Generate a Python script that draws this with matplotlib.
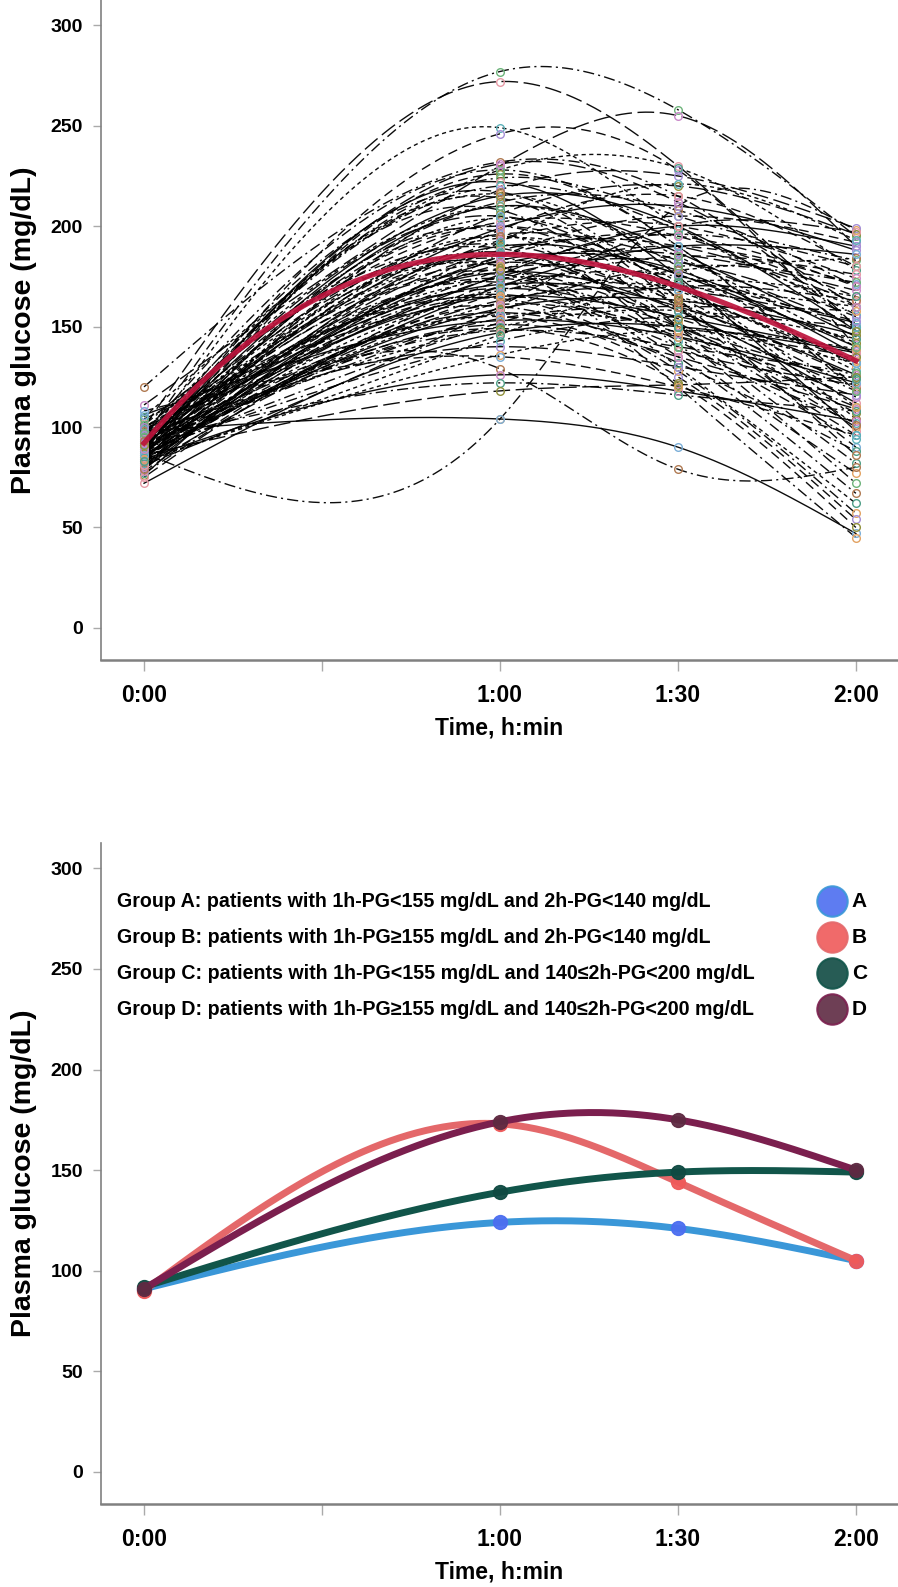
import numpy as np
import matplotlib
matplotlib.use('Agg')
from matplotlib import pyplot as plt

# sampling times (minutes) of the OGTT
minutes = [0, 60, 90, 120]
tick_minutes = [0, 30, 60, 90, 120]
tick_labels = ['0:00', '', '1:00', '1:30', '2:00']

# individual patients, plasma glucose (mg/dL) at 0, 60, 90, 120 min
pg_0 = [95, 100, 92, 88, 87, 98, 120, 111, 105, 82, 90, 86, 94, 80, 96, 85,
        99, 83, 91, 88, 78, 102, 86, 93, 81, 97, 89, 84, 92, 76, 101, 87,
        95, 82, 90, 79, 98, 85, 93, 88, 104, 80, 91, 86, 96, 83, 89, 92,
        77, 100, 85, 94, 81, 88, 97, 84, 90, 78, 95, 86, 92, 75, 99, 83,
        89, 106, 87, 80, 94, 85, 91, 72, 88, 96, 83, 108, 90, 84, 93, 86,
        95, 89, 82, 100, 87, 91, 79, 94, 85, 90, 97, 81, 88, 92, 84, 86,
        93, 89, 83, 91]
pg_60 = [277, 272, 249, 246, 104, 104, 232, 230, 228, 226, 224, 222, 220, 218,
         216, 214, 212, 210, 208, 206, 204, 202, 200, 199, 197, 196, 194, 193,
         191, 190, 189, 188, 186, 185, 184, 183, 182, 181, 180, 179, 178, 177,
         176, 175, 174, 173, 172, 171, 170, 169, 168, 167, 166, 165, 164, 163,
         162, 161, 160, 159, 158, 157, 156, 155, 154, 153, 152, 151, 150, 149,
         148, 147, 143, 140, 136, 135, 129, 126, 122, 118, 210, 198, 187, 176,
         165, 205, 195, 185, 174, 215, 228, 160, 192, 200, 180, 170, 217, 231,
         146, 178]
pg_90 = [258, 230, 200, 228, 210, 90, 215, 255, 229, 190, 205, 175, 198, 225,
         180, 160, 208, 187, 150, 220, 172, 195, 165, 210, 140, 183, 170, 200,
         158, 176, 145, 190, 168, 205, 152, 178, 162, 186, 130, 172, 196, 158,
         143, 182, 165, 190, 135, 160, 175, 150, 170, 185, 140, 155, 128, 168,
         178, 147, 132, 163, 180, 138, 150, 125, 160, 145, 170, 135, 158, 122,
         140, 150, 155, 130, 148, 120, 79, 118, 116, 121, 185, 215, 150, 200,
         145, 170, 160, 195, 150, 200, 190, 200, 221, 176, 120, 190, 164, 212,
         172, 154]
pg_120 = [195, 150, 160, 140, 198, 47, 150, 190, 178, 120, 183, 98, 156, 199,
          130, 90, 170, 145, 82, 196, 110, 165, 125, 188, 77, 150, 104, 174,
          118, 140, 72, 162, 128, 192, 100, 136, 119, 168, 62, 142, 180, 112,
          94, 155, 133, 171, 67, 126, 148, 107, 160, 176, 102, 138, 57, 152,
          184, 115, 88, 146, 172, 121, 132, 54, 158, 122, 163, 109, 144, 50,
          127, 137, 150, 116, 139, 96, 80, 103, 108, 125, 140, 180, 96, 190,
          110, 132, 101, 170, 124, 148, 118, 197, 193, 153, 45, 186, 86, 160,
          165, 135]
mean_pg = [92, 186, 170, 133]

# group means (bottom panel)
group_names = ['A', 'B', 'C', 'D']
group_a = [91, 124, 121, 105]
group_b = [90, 173, 144, 105]
group_c = [92, 139, 149, 149]
group_d = [91, 174, 175, 150]
group_text = [
    'Group A: patients with 1h-PG<155 mg/dL and 2h-PG<140 mg/dL',
    'Group B: patients with 1h-PG\u2265155 mg/dL and 2h-PG<140 mg/dL',
    'Group C: patients with 1h-PG<155 mg/dL and 140\u22642h-PG<200 mg/dL',
    'Group D: patients with 1h-PG\u2265155 mg/dL and 140\u22642h-PG<200 mg/dL',
]

plt.rcParams['font.family'] = ['Liberation Sans', 'DejaVu Sans']
plt.rcParams['font.weight'] = 'bold'

line_styles = [(0, (8, 3, 1.5, 3)), (0, (12, 4)), (0, (3, 2.5)), (0, (7, 4)),
               (0, (8, 3, 1.5, 3)), '-']
marker_colors = ['#6db37a', '#e79aa6', '#5cb0b8', '#a58fd6', '#e2a262',
                 '#7aaed8', '#b07a52', '#c98ac9', '#4e9e86', '#8f8f3a']


def spline(values):
    # natural cubic spline through the four measurements
    x = np.array(minutes, float)
    y = np.array(values, float)
    n = len(x)
    h = np.diff(x)
    A = np.zeros((n, n))
    r = np.zeros(n)
    A[0, 0] = A[-1, -1] = 1
    for i in range(1, n - 1):
        A[i, i - 1] = h[i - 1]
        A[i, i] = 2 * (h[i - 1] + h[i])
        A[i, i + 1] = h[i]
        r[i] = 6 * ((y[i + 1] - y[i]) / h[i] - (y[i] - y[i - 1]) / h[i - 1])
    M = np.linalg.solve(A, r)
    xs = np.linspace(0, 120, 241)
    k = np.clip(np.searchsorted(x, xs) - 1, 0, n - 2)
    u = (xs - x[k]) / h[k]
    ys = (y[k] * (1 - u) + y[k + 1] * u
          + h[k] ** 2 / 6 * (M[k] * ((1 - u) ** 3 - (1 - u)) + M[k + 1] * (u ** 3 - u)))
    return xs, ys


def cubic(values):
    xs = np.linspace(0, 120, 241)
    return xs, np.polyval(np.polyfit(minutes, values, 3), xs)


def style_axes(ax):
    ax.set_xlim(-7.25, 127.1)
    ax.set_ylim(-16, 312.6)
    ax.set_xticks(tick_minutes)
    ax.set_xticklabels(tick_labels)
    ax.set_yticks(range(0, 301, 50))
    for side in ['top', 'right']:
        ax.spines[side].set_visible(False)
    ax.spines['left'].set_color('#808080')
    ax.spines['left'].set_linewidth(1.2)
    ax.spines['bottom'].set_color('#808080')
    ax.spines['bottom'].set_linewidth(1.8)
    ax.tick_params(axis='y', length=6, width=1, color='#aaaaaa', pad=7,
                   labelsize=14)
    ax.tick_params(axis='x', length=8, width=1, color='#aaaaaa', pad=9,
                   labelsize=16.5)
    ax.set_xlabel('Time, h:min', fontsize=16.5, fontweight='bold', labelpad=7)
    ax.set_ylabel('Plasma glucose (mg/dL)', fontsize=20.5, fontweight='bold',
                  labelpad=10)


fig = plt.figure(figsize=(8.98, 15.87), dpi=100)
ax1 = fig.add_axes([0.1125, 0.5841, 0.8875, 0.4159])
ax2 = fig.add_axes([0.1125, 0.0523, 0.8875, 0.4165])

# top: every patient
for i in range(len(pg_0)):
    vals = [pg_0[i], pg_60[i], pg_90[i], pg_120[i]]
    xs, ys = spline(vals)
    ax1.plot(xs, ys, color='black', lw=1.0, alpha=0.95,
             linestyle=line_styles[i % len(line_styles)], zorder=2)
    ax1.plot(minutes, vals, 'o', mfc='none', mec=marker_colors[i % len(marker_colors)],
             ms=5.5, mew=1, zorder=3)
xs, ys = cubic(mean_pg)
ax1.plot(xs, ys, color='#bd133c', lw=3.8, alpha=0.92, zorder=4)
style_axes(ax1)

# bottom: group means
line_colors = ['#3a97d8', '#e4686a', '#11554a', '#7b1f4e']
dot_colors = ['#4c6ef0', '#ef5a5a', '#0f4a42', '#5e2a42']
order = [0, 2, 3, 1]
group_vals = [group_a, group_b, group_c, group_d]
for k in order:
    xs, ys = spline(group_vals[k])
    ax2.plot(xs, ys, color=line_colors[k], lw=5, solid_capstyle='round',
             zorder=2 + k)
    ax2.plot(minutes, group_vals[k], 'o', color=dot_colors[k], ms=10,
             mec=dot_colors[k], alpha=0.95, zorder=2 + k)
style_axes(ax2)

for j, txt in enumerate(group_text):
    y = 0.912 - j * 0.0545
    ax2.text(0.02, y, txt, transform=ax2.transAxes, fontsize=14.1,
             fontweight='bold', va='center', ha='left')
    ax2.scatter([0.917], [y], s=480, color=dot_colors[j], alpha=0.9,
                edgecolors=line_colors[j], linewidths=1.5,
                transform=ax2.transAxes, zorder=5)
    ax2.text(0.942, y, group_names[j], transform=ax2.transAxes, fontsize=15,
             fontweight='bold', va='center', ha='left')

fig.savefig('out.png', dpi=100)
